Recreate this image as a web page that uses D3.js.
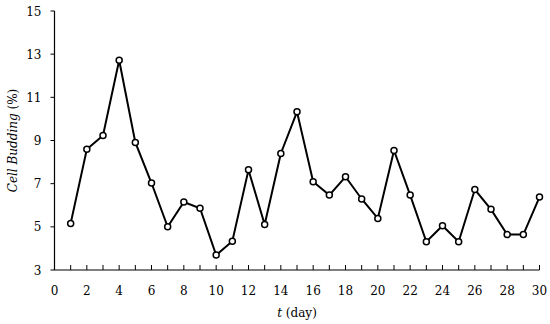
<!DOCTYPE html>
<html>
<head>
<meta charset="utf-8">
<script src="https://cdn.jsdelivr.net/npm/d3@7"></script>
<style>
  body { margin: 0; background: #fff; }
</style>
</head>
<body>
<svg id="chart"></svg>
<script>
// days and cell budding values
let days = d3.range(1, 31)
let budding = [5.16, 8.59, 9.23, 12.72, 8.91, 7.03, 5.0, 6.15, 5.86, 3.69,
               4.33, 7.64, 5.11, 8.40, 10.33, 7.09, 6.47, 7.32, 6.29, 5.39,
               8.54, 6.47, 4.31, 5.05, 4.31, 6.73, 5.81, 4.64, 4.64, 6.38]
let xTicks = d3.range(0, 31, 2)
let yTicks = [3, 5, 7, 9, 11, 13, 15]

let width = 550
let height = 324
let serif = "'DejaVu Serif', serif"

let svg = d3.select("#chart")
    .attr("width", width)
    .attr("height", height)
    .style("font-family", serif)

let xScale = d3.scaleLinear()
    .domain([0, 30])
    .range([54.5, 539.5])

let yScale = d3.scaleLinear()
    .domain([3, 15])
    .range([270, 11])

// x axis: minor ticks every day pointing up, labels every 2
let xAxis = svg.append("g")
    .attr("transform", "translate(0," + yScale(3) + ")")

xAxis.append("line")
    .attr("x1", xScale(0)).attr("x2", xScale(30))
    .attr("stroke", "#000").attr("stroke-width", 1.2)

xAxis.selectAll(".tick")
    .data(d3.range(0, 31))
    .enter().append("line")
    .attr("x1", d => xScale(d)).attr("x2", d => xScale(d))
    .attr("y1", 0).attr("y2", -5)
    .attr("stroke", "#000").attr("stroke-width", 1)

xAxis.selectAll(".lbl")
    .data(xTicks)
    .enter().append("text")
    .attr("x", d => xScale(d))
    .attr("y", 25)
    .attr("text-anchor", "middle")
    .style("font-size", "12px")
    .text(d => d)

// y axis
let yAxis = svg.append("g")
    .attr("transform", "translate(" + xScale(0) + ",0)")

yAxis.append("line")
    .attr("y1", yScale(3)).attr("y2", yScale(15))
    .attr("stroke", "#000").attr("stroke-width", 1.2)

yAxis.selectAll(".tick")
    .data(yTicks)
    .enter().append("line")
    .attr("x1", 0).attr("x2", -4)
    .attr("y1", d => yScale(d)).attr("y2", d => yScale(d))
    .attr("stroke", "#000").attr("stroke-width", 1)

yAxis.selectAll(".lbl")
    .data(yTicks)
    .enter().append("text")
    .attr("x", -13)
    .attr("y", d => yScale(d) + 4.5)
    .attr("text-anchor", "end")
    .style("font-size", "12px")
    .text(d => d)

// axis titles
let xTitle = svg.append("text")
    .attr("x", xScale(15))
    .attr("y", 317)
    .attr("text-anchor", "middle")
    .style("font-size", "12px")
xTitle.append("tspan").style("font-style", "italic").text("t")
xTitle.append("tspan").text(" (day)")

let yTitle = svg.append("text")
    .attr("transform", "translate(17," + yScale(9) + ") rotate(-90)")
    .attr("text-anchor", "middle")
    .style("font-size", "12px")
yTitle.append("tspan").style("font-style", "italic").text("Cell Budding")
yTitle.append("tspan").text(" (%)")

// line + markers
let pts = days.map((d, i) => [d, budding[i]])

let line = d3.line()
    .x(d => xScale(d[0]))
    .y(d => yScale(d[1]))

svg.append("path")
    .datum(pts)
    .attr("d", line)
    .attr("fill", "none")
    .attr("stroke", "#000")
    .attr("stroke-width", 2)

svg.selectAll(".pt")
    .data(pts)
    .enter().append("circle")
    .attr("cx", d => xScale(d[0]))
    .attr("cy", d => yScale(d[1]))
    .attr("r", 3)
    .attr("fill", "#fff")
    .attr("stroke", "#000")
    .attr("stroke-width", 1.5)
</script>
</body>
</html>
